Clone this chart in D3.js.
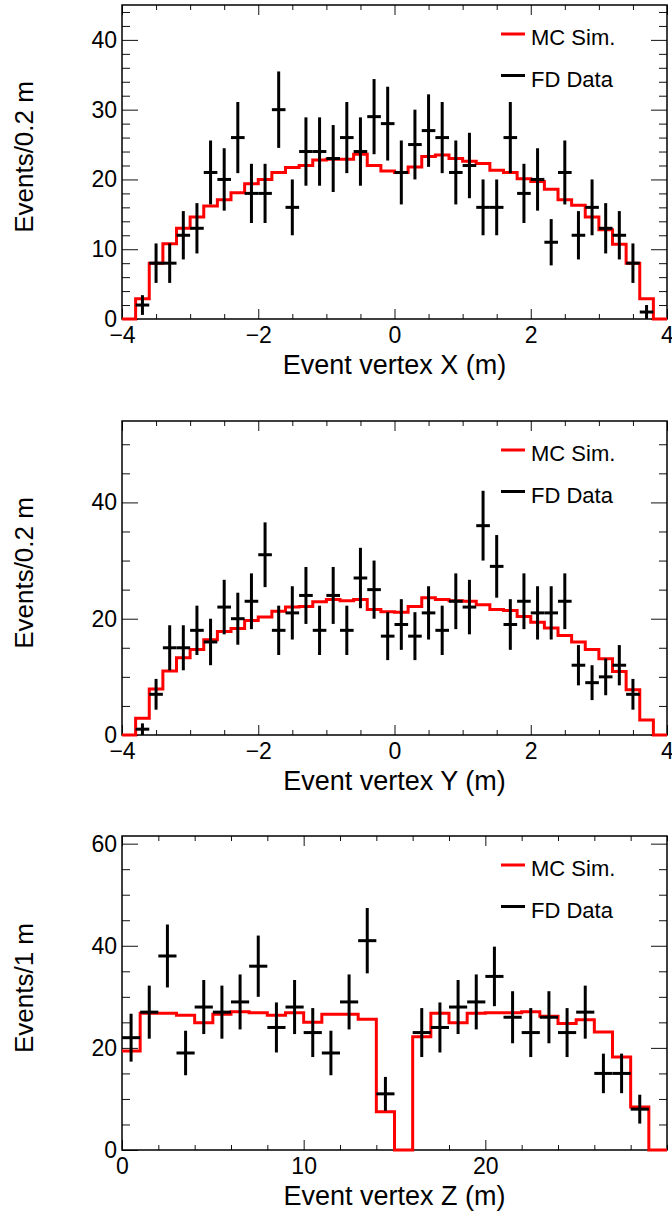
<!DOCTYPE html>
<html>
<head>
<meta charset="utf-8">
<script src="https://cdn.jsdelivr.net/npm/d3@7"></script>
<style>
  body { margin: 0; background: #fff; }
</style>
</head>
<body>
<script>
// Bin contents
// X and Y: 40 bins of 0.2 m from -4 to 4, Z: 30 bins of 1 m from 0 to 30
var mcX = [0, 2.9, 8.0, 10.8, 13.0, 14.6, 16.2, 17.1, 18.1, 19.4, 20.0, 21.0, 21.7, 22.0, 22.8, 22.9, 22.9, 23.6, 22.0, 21.2,
           21.0, 21.8, 23.3, 23.5, 23.0, 22.6, 22.3, 21.3, 21.0, 20.1, 19.7, 18.6, 17.1, 16.3, 14.6, 12.8, 10.7, 8.0, 2.9, 0];
var dataX = [0, 2, 8, 8, 12, 13, 21, 20, 26, 18, 18, 30, 16, 24, 24, 23, 26, 24, 29, 28,
             21, 25, 27, 26, 21, 22, 16, 16, 26, 18, 20, 11, 21, 12, 16, 13, 12, 8, 1, 0];

var mcY = [0, 2.9, 7.9, 11.0, 13.3, 14.7, 16.4, 17.8, 18.3, 19.7, 20.3, 21.3, 22.0, 22.1, 22.9, 23.3, 23.1, 23.3, 21.6, 21.2,
           21.1, 22.1, 23.6, 23.3, 23.1, 23.0, 22.4, 21.6, 21.4, 20.4, 19.4, 18.4, 17.1, 16.0, 14.7, 13.1, 10.9, 7.8, 2.6, 0];
var dataY = [0, 1, 7, 15, 15, 18, 16, 22, 20, 23, 31, 18, 21, 24, 18, 24, 18, 27, 25, 17,
             19, 17, 21, 18, 23, 22, 36, 29, 19, 23, 21, 21, 23, 12, 9, 10, 12, 7, 0, 0];

var mcZ = [19.4, 26.8, 26.8, 26.4, 24.9, 26.6, 27.1, 26.9, 26.4, 26.9, 25.0, 26.6, 26.6, 25.6, 7.5,
           0, 22.2, 26.8, 24.9, 26.8, 26.9, 26.9, 27.1, 26.2, 24.8, 25.5, 23.1, 18.2, 8.4, 0];
var dataZ = [22, 27, 38, 19, 28, 27, 29, 36, 24, 28, 23, 19, 29, 41, 11,
             0, 23, 24, 28, 29, 34, 26, 23, 26, 23, 27, 15, 15, 8, 0];

// Tick labels
var xTicksXY = [-4, -2, 0, 2, 4];
var xTicksZ = [0, 10, 20];
var yTicksX = [0, 10, 20, 30, 40];
var yTicksY = [0, 20, 40];
var yTicksZ = [0, 20, 40, 60];

var legendLabels = ["MC Sim.", "FD Data"];

// SVG Variables
var WIDTH = 672;
var HEIGHT = 1217;
var FONT = "'Liberation Sans', Arial, Helvetica, sans-serif";
var frameL = 122, frameR = 667, frameH = 314;

var svg = d3.select("body").append("svg")
    .attr("width", WIDTH).attr("height", HEIGHT)
    .style("background", "#fff");

var panels = [
    {top: 5, lo: -4, hi: 4, binW: 0.2, ymax: 45, mc: mcX, data: dataX,
     xTicks: xTicksXY, xMinor: 0.5, yTicks: yTicksX, yMinor: 2,
     xTitle: "Event vertex X (m)", yTitle: "Events/0.2 m"},
    {top: 421, lo: -4, hi: 4, binW: 0.2, ymax: 54, mc: mcY, data: dataY,
     xTicks: xTicksXY, xMinor: 0.5, yTicks: yTicksY, yMinor: 5,
     xTitle: "Event vertex Y (m)", yTitle: "Events/0.2 m"},
    {top: 836, lo: 0, hi: 30, binW: 1, ymax: 61.5, mc: mcZ, data: dataZ,
     xTicks: xTicksZ, xMinor: 2, yTicks: yTicksZ, yMinor: 5,
     xTitle: "Event vertex Z (m)", yTitle: "Events/1 m"}
];

// minor ticks that are not on a major tick
function minors(lo, hi, step, major) {
    return d3.range(lo, hi + 1e-6, step).filter(function(v) {
        return !major.some(function(m) { return Math.abs(m - v) < 1e-6; });
    });
}

function styleAxis(sel) {
    sel.select(".domain").remove();
    sel.selectAll("line").attr("stroke", "#111").attr("stroke-width", 1);
    sel.attr("font-family", FONT).attr("font-size", 23);
    sel.selectAll("text").attr("fill", "#000");
}

panels.forEach(function(p) {
    var bottom = p.top + frameH;
    var x = d3.scaleLinear().domain([p.lo, p.hi]).range([frameL, frameR]);
    var y = d3.scaleLinear().domain([0, p.ymax]).range([bottom, p.top]);
    var g = svg.append("g");

    var xMin = minors(p.lo, p.hi, p.xMinor, p.xTicks);
    var yMin = minors(0, p.ymax, p.yMinor, p.yTicks);

    // bottom axis with labels
    g.append("g").attr("transform", "translate(0," + bottom + ")")
        .call(d3.axisBottom(x).tickValues(p.xTicks).tickSize(-10).tickFormat(d3.format("d")))
        .call(styleAxis)
        .selectAll("text").attr("y", 24).attr("dy", null);
    g.append("g").attr("transform", "translate(0," + bottom + ")")
        .call(d3.axisBottom(x).tickValues(xMin).tickSize(-5).tickFormat(""))
        .call(styleAxis);
    // top axis mirror
    g.append("g").attr("transform", "translate(0," + p.top + ")")
        .call(d3.axisTop(x).tickValues(p.xTicks).tickSize(-10).tickFormat(""))
        .call(styleAxis);
    g.append("g").attr("transform", "translate(0," + p.top + ")")
        .call(d3.axisTop(x).tickValues(xMin).tickSize(-5).tickFormat(""))
        .call(styleAxis);

    // left axis with labels
    g.append("g").attr("transform", "translate(" + frameL + ",0)")
        .call(d3.axisLeft(y).tickValues(p.yTicks).tickSize(-16).tickPadding(5).tickFormat(d3.format("d")))
        .call(styleAxis);
    g.append("g").attr("transform", "translate(" + frameL + ",0)")
        .call(d3.axisLeft(y).tickValues(yMin).tickSize(-8).tickFormat(""))
        .call(styleAxis);
    // right axis mirror
    g.append("g").attr("transform", "translate(" + frameR + ",0)")
        .call(d3.axisRight(y).tickValues(p.yTicks).tickSize(-16).tickFormat(""))
        .call(styleAxis);
    g.append("g").attr("transform", "translate(" + frameR + ",0)")
        .call(d3.axisRight(y).tickValues(yMin).tickSize(-8).tickFormat(""))
        .call(styleAxis);

    // frame
    g.append("rect")
        .attr("x", frameL).attr("y", p.top)
        .attr("width", frameR - frameL).attr("height", frameH)
        .attr("fill", "none").attr("stroke", "#000").attr("stroke-width", 1.5);

    // MC histogram as a step line
    var steps = p.mc.map(function(v, i) { return [p.lo + i * p.binW, v]; });
    steps.push([p.hi, p.mc[p.mc.length - 1]]);
    g.append("path")
        .datum(steps)
        .attr("d", d3.line().x(function(d) { return x(d[0]); })
                            .y(function(d) { return y(d[1]); })
                            .curve(d3.curveStepAfter))
        .attr("fill", "none").attr("stroke", "#ff0000").attr("stroke-width", 3);

    // data points with poisson errors
    var pts = p.data.map(function(v, i) { return {i: i, v: v}; })
        .filter(function(d) { return d.v > 0; });
    var pg = g.append("g").attr("stroke", "#000").attr("stroke-width", 3);
    pg.selectAll(".ex").data(pts).enter().append("line")
        .attr("x1", function(d) { return x(p.lo + d.i * p.binW); })
        .attr("x2", function(d) { return x(p.lo + (d.i + 1) * p.binW); })
        .attr("y1", function(d) { return y(d.v); })
        .attr("y2", function(d) { return y(d.v); });
    pg.selectAll(".ey").data(pts).enter().append("line")
        .attr("x1", function(d) { return x(p.lo + (d.i + 0.5) * p.binW); })
        .attr("x2", function(d) { return x(p.lo + (d.i + 0.5) * p.binW); })
        .attr("y1", function(d) { return y(d.v - Math.sqrt(d.v)); })
        .attr("y2", function(d) { return y(d.v + Math.sqrt(d.v)); });

    // Legend
    var lg = g.append("g").attr("font-family", FONT).attr("font-size", 22);
    legendLabels.forEach(function(lab, k) {
        var ly = p.top + 29 + k * 41.5;
        lg.append("line")
            .attr("x1", 501).attr("x2", 525).attr("y1", ly).attr("y2", ly)
            .attr("stroke", k == 0 ? "#ff0000" : "#000").attr("stroke-width", 3);
        lg.append("text").attr("x", 531).attr("y", ly + 11).text(lab);
    });

    // axis titles
    g.append("text")
        .attr("x", (frameL + frameR) / 2).attr("y", bottom + 55)
        .attr("text-anchor", "middle")
        .attr("font-family", FONT).attr("font-size", 27)
        .text(p.xTitle);
    g.append("text")
        .attr("transform", "translate(33," + (p.top + frameH / 2 - 5) + ") rotate(-90)")
        .attr("text-anchor", "middle")
        .attr("font-family", FONT).attr("font-size", 26)
        .text(p.yTitle);
});
</script>
</body>
</html>
